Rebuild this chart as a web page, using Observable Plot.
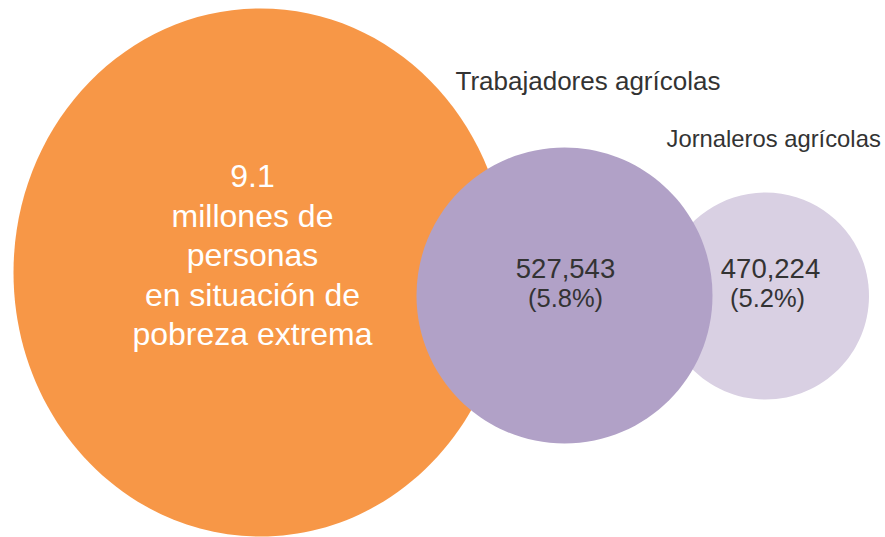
<!DOCTYPE html>
<html>
<head>
<meta charset="utf-8">
<script src="https://cdn.jsdelivr.net/npm/d3@7"></script>
<script src="https://cdn.jsdelivr.net/npm/@observablehq/plot@0.6"></script>
<style>
  html, body { margin: 0; padding: 0; background: #ffffff; }
  #chart svg { display: block; }
</style>
</head>
<body>
<div id="chart"></div>
<script>
// ---- Data ----
const groups = ["Personas en pobreza extrema", "Trabajadores agrícolas", "Jornaleros agrícolas"];
const values = [9100000, 527543, 470224];
const shares = [null, 5.8, 5.2];
const bigLabelText = "millones de\npersonas\nen situación de\npobreza extrema";

// ---- Layout (positions / sizes / styles, in pixels) ----
const cx = [260, 564, 765];
const cy = [272, 295, 295.5];
const rx = [247, 148, 103.5];
const ry = [264, 148, 103.5];
const fills = ["#F79747", "#B1A1C7", "#D9D0E3"];
const drawOrder = [0, 2, 1];

const rows = groups.map((g, i) => ({
  group: g, value: values[i], share: shares[i],
  cx: cx[i], cy: cy[i], r: rx[i], k: ry[i] / rx[i], fill: fills[i]
}));

function ellipseSymbol(k) {
  return {
    draw(ctx, size) {
      const a = Math.sqrt(size / Math.PI), b = a * k, c = 0.5523;
      ctx.moveTo(a, 0);
      ctx.bezierCurveTo(a, c * b, c * a, b, 0, b);
      ctx.bezierCurveTo(-c * a, b, -a, c * b, -a, 0);
      ctx.bezierCurveTo(-a, -c * b, -c * a, -b, 0, -b);
      ctx.bezierCurveTo(c * a, -b, a, -c * b, a, 0);
      ctx.closePath();
    }
  };
}

const fmtM = d3.format(".1f");
const fmtN = d3.format(",");
const font = "'Liberation Sans', Arial, Helvetica, sans-serif";

const circleMarks = drawOrder.map(i => Plot.dot([rows[i]], {
  x: "cx", y: "cy", r: "r",
  fill: "fill", stroke: "none",
  symbol: ellipseSymbol(rows[i].k)
}));

const bigLabel = [{...rows[0], label: fmtM(rows[0].value / 1e6) + "\n" + bigLabelText}];
const numLabels = rows.slice(1).map((d, j) => ({
  ...d,
  num: fmtN(d.value),
  pct: "(" + d.share + "%)",
  tx: [565, 770][j],
  px: [565, 767][j]
}));
const titleLabels = rows.slice(1).map((d, j) => ({
  ...d, tx: [455, 666][j], ty: [81.5, 139][j], fs: [26, 23.8][j]
}));

const chart = Plot.plot({
  width: 885,
  height: 537,
  margin: 0,
  x: {type: "identity", axis: null},
  y: {type: "identity", axis: null},
  r: {type: "identity"},
  color: {type: "identity"},
  style: {fontFamily: font, background: "#ffffff"},
  marks: [
    ...circleMarks,
    Plot.text(bigLabel, {
      x: 252, y: 253, text: "label",
      fill: "#ffffff", fontSize: 32, lineHeight: 1.235,
      textAnchor: "middle", lineAnchor: "middle", fontFamily: font
    }),
    Plot.text(numLabels, {
      x: "tx", y: 268.2, text: "num",
      fill: "#333333", fontSize: 27.5,
      textAnchor: "middle", lineAnchor: "middle", fontFamily: font
    }),
    Plot.text(numLabels, {
      x: "px", y: 298.8, text: "pct",
      fill: "#333333", fontSize: 25.5,
      textAnchor: "middle", lineAnchor: "middle", fontFamily: font
    }),
    ...titleLabels.map(d => Plot.text([d], {
      x: "tx", y: "ty", text: "group",
      fill: "#333333", fontSize: d.fs,
      textAnchor: "start", lineAnchor: "middle", fontFamily: font
    }))
  ]
});

document.getElementById("chart").appendChild(chart);
</script>
</body>
</html>
